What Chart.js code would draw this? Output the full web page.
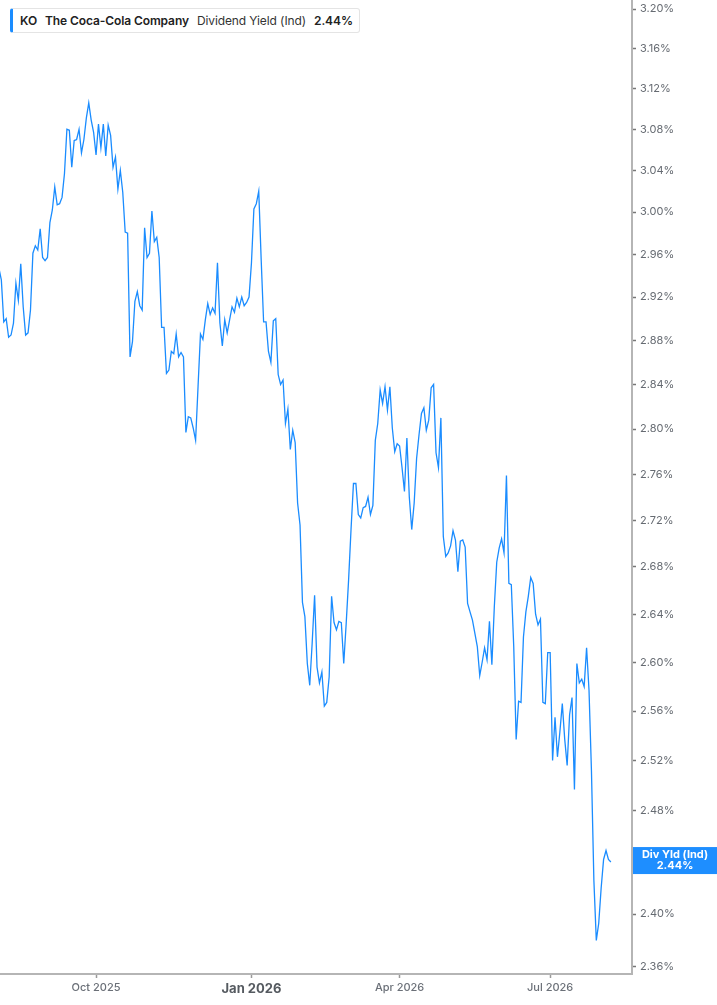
<!DOCTYPE html>
<html>
<head>
<meta charset="utf-8">
<script src="https://cdn.jsdelivr.net/npm/chart.js@4.4.1/dist/chart.umd.min.js"></script>
<style>
html,body{margin:0;padding:0;background:#fff;}
#wrap{position:relative;width:717px;height:1005px;overflow:hidden;}
#legend{position:absolute;left:10px;top:8px;height:25px;box-sizing:border-box;display:flex;align-items:center;
  background:#fff;border:1px solid #e4e4e4;border-left:3px solid #1a8cff;border-radius:3px;padding:0 6px 0 7px;
  font-family:Inter,"Noto Sans",sans-serif;font-size:12px;letter-spacing:-0.1px;color:#222;white-space:nowrap;}
#legend .b{font-weight:600;}
#legend .n{font-weight:400;color:#333;}
#legend span{margin-right:8px;}
#legend span:last-child{margin-right:0;}
</style>
</head>
<body>
<div id="wrap"><canvas id="chart"></canvas><div id="legend"></div></div>
<script>
const ticker = 'KO';
const company = 'The Coca-Cola Company';
const seriesName = 'Dividend Yield (Ind)';
const tagName = 'Div Yld (Ind)';

const dates = [
'2025-08-04','2025-08-05','2025-08-06','2025-08-07','2025-08-08','2025-08-11','2025-08-12','2025-08-13','2025-08-14','2025-08-15','2025-08-18','2025-08-19','2025-08-20','2025-08-21','2025-08-22','2025-08-25','2025-08-26','2025-08-27','2025-08-28','2025-08-29',
'2025-09-02','2025-09-03','2025-09-04','2025-09-05','2025-09-08','2025-09-09','2025-09-10','2025-09-11','2025-09-12','2025-09-15','2025-09-16','2025-09-17','2025-09-18','2025-09-19','2025-09-22','2025-09-23','2025-09-24','2025-09-25','2025-09-26','2025-09-29','2025-09-30',
'2025-10-01','2025-10-02','2025-10-03','2025-10-06','2025-10-07','2025-10-08','2025-10-09','2025-10-10','2025-10-13','2025-10-14','2025-10-15','2025-10-16','2025-10-17','2025-10-20','2025-10-21','2025-10-22','2025-10-23','2025-10-24','2025-10-27','2025-10-28','2025-10-29','2025-10-30','2025-10-31',
'2025-11-03','2025-11-04','2025-11-05','2025-11-06','2025-11-07','2025-11-10','2025-11-11','2025-11-12','2025-11-13','2025-11-14','2025-11-17','2025-11-18','2025-11-19','2025-11-20','2025-11-21','2025-11-24','2025-11-25','2025-11-26','2025-11-28',
'2025-12-01','2025-12-02','2025-12-03','2025-12-04','2025-12-05','2025-12-08','2025-12-09','2025-12-10','2025-12-11','2025-12-12','2025-12-15','2025-12-16','2025-12-17','2025-12-18','2025-12-19','2025-12-22','2025-12-23','2025-12-24','2025-12-26','2025-12-29','2025-12-30','2025-12-31',
'2026-01-02','2026-01-05','2026-01-06','2026-01-07','2026-01-08','2026-01-09','2026-01-12','2026-01-13','2026-01-14','2026-01-15','2026-01-16','2026-01-20','2026-01-21','2026-01-22','2026-01-23','2026-01-26','2026-01-27','2026-01-28','2026-01-29','2026-01-30',
'2026-02-02','2026-02-03','2026-02-04','2026-02-05','2026-02-06','2026-02-09','2026-02-10','2026-02-11','2026-02-12','2026-02-13','2026-02-17','2026-02-18','2026-02-19','2026-02-20','2026-02-23','2026-02-24','2026-02-25','2026-02-26','2026-02-27',
'2026-03-02','2026-03-03','2026-03-04','2026-03-05','2026-03-06','2026-03-09','2026-03-10','2026-03-11','2026-03-12','2026-03-13','2026-03-16','2026-03-17','2026-03-18','2026-03-19','2026-03-20','2026-03-23','2026-03-24','2026-03-25','2026-03-26','2026-03-27','2026-03-30','2026-03-31',
'2026-04-01','2026-04-02','2026-04-06','2026-04-07','2026-04-08','2026-04-09','2026-04-10','2026-04-13','2026-04-14','2026-04-15','2026-04-16','2026-04-17','2026-04-20','2026-04-21','2026-04-22','2026-04-23','2026-04-24','2026-04-27','2026-04-28','2026-04-29','2026-04-30',
'2026-05-01','2026-05-04','2026-05-05','2026-05-06','2026-05-07','2026-05-08','2026-05-11','2026-05-12','2026-05-13','2026-05-14','2026-05-15','2026-05-18','2026-05-19','2026-05-20','2026-05-21','2026-05-22','2026-05-26','2026-05-27','2026-05-28','2026-05-29',
'2026-06-01','2026-06-02','2026-06-03','2026-06-04','2026-06-05','2026-06-08','2026-06-09','2026-06-10','2026-06-11','2026-06-12','2026-06-15','2026-06-16','2026-06-17','2026-06-18','2026-06-22','2026-06-23','2026-06-24','2026-06-25','2026-06-26','2026-06-29','2026-06-30',
'2026-07-01','2026-07-02','2026-07-06','2026-07-07','2026-07-08','2026-07-09','2026-07-10','2026-07-13','2026-07-14','2026-07-15','2026-07-16','2026-07-17','2026-07-20','2026-07-21','2026-07-22','2026-07-23','2026-07-24','2026-07-27','2026-07-28','2026-07-29','2026-07-30','2026-07-31',
'2026-08-03','2026-08-04','2026-08-05','2026-08-06'
];

const values = [
2.940,
2.947,2.936,2.897,2.900,2.883,2.885,2.896,2.933,2.917,2.951,
2.911,2.885,2.887,2.908,2.961,2.968,2.964,2.984,2.957,2.954,
2.957,2.990,3.002,3.024,3.007,3.008,3.014,3.037,3.080,3.079,
3.043,3.069,3.070,3.080,3.057,3.070,3.091,3.106,3.089,3.077,
3.055,3.085,3.062,3.085,3.054,3.084,3.074,3.043,3.053,3.022,
3.040,3.019,2.981,2.980,2.865,2.879,2.916,2.925,2.912,2.908,
2.985,2.957,2.961,3.001,2.972,2.976,2.957,2.892,2.892,2.850,
2.853,2.870,2.868,2.886,2.865,2.869,2.865,2.797,2.811,2.810,
2.801,2.790,2.838,2.886,2.881,2.899,2.914,2.904,2.910,2.905,
2.952,2.896,2.875,2.899,2.887,2.899,2.911,2.906,2.919,2.911,
2.920,2.912,2.915,2.920,2.952,3.003,3.008,3.020,2.955,2.897,
2.897,2.870,2.860,2.898,2.900,2.849,2.840,2.844,2.805,2.818,
2.782,2.799,2.788,2.735,2.716,2.650,2.638,2.599,2.581,2.616,
2.656,2.596,2.583,2.592,2.564,2.567,2.588,2.655,2.633,2.627,
2.634,2.633,2.599,2.632,2.669,2.712,2.752,2.752,2.725,2.722,
2.731,2.732,2.740,2.725,2.733,2.790,2.805,2.835,2.823,2.838,
2.817,2.838,2.801,2.780,2.787,2.785,2.766,2.745,2.792,2.740,
2.712,2.735,2.774,2.795,2.814,2.819,2.799,2.808,2.837,2.840,
2.779,2.766,2.810,2.706,2.689,2.692,2.698,2.711,2.703,2.676,
2.702,2.703,2.697,2.649,2.642,2.635,2.624,2.613,2.589,2.600,
2.612,2.602,2.634,2.598,2.646,2.684,2.696,2.704,2.692,2.759,
2.666,2.665,2.613,2.537,2.568,2.567,2.621,2.642,2.655,2.671,
2.666,2.640,2.631,2.636,2.567,2.566,2.608,2.608,2.520,2.555,
2.523,2.543,2.566,2.537,2.516,2.557,2.571,2.497,2.599,2.583,
2.586,2.580,2.612,2.577,2.512,2.426,2.380,2.393,2.420,2.442,
2.449,2.442,2.440
];

const yTickValues = [3.20,3.16,3.12,3.08,3.04,3.00,2.96,2.92,2.88,2.84,2.80,2.76,2.72,2.68,2.64,2.60,2.56,2.52,2.48,2.44,2.40,2.36];
const xTickMonths = ['2025-10','2026-01','2026-04','2026-07'];
const xTickLabels = ['Oct 2025','Jan 2026','Apr 2026','Jul 2026'];

const xTickIndex = xTickMonths.map(m => dates.findIndex(d => d.startsWith(m)));
const lastValue = values[values.length - 1];
const fmtPct = v => v.toFixed(2) + '%';

const lineColor = '#1a8cff';
const tagColor = '#1e8eff';
const fontFamily = 'Inter, "Noto Sans", sans-serif';

document.getElementById('legend').innerHTML =
  '<span class="b">' + ticker + '</span>' +
  '<span class="b">' + company + '</span>' +
  '<span class="n">' + seriesName + '</span>' +
  '<span class="b">' + fmtPct(lastValue) + '</span>';

const tagPlugin = {
  id: 'lastValueTag',
  afterDraw(chart) {
    const {ctx, chartArea, scales} = chart;
    const py = scales.y.getPixelForValue(lastValue);
    const x0 = chartArea.right + 1;
    const w = chart.width - x0;
    ctx.save();
    ctx.fillStyle = tagColor;
    ctx.fillRect(x0, py - 15, w, 27);
    ctx.fillStyle = '#ffffff';
    ctx.font = 'bold 11px ' + fontFamily;
    ctx.textAlign = 'center';
    ctx.textBaseline = 'middle';
    ctx.fillText(tagName, x0 + w / 2, py - 7);
    ctx.fillText(fmtPct(lastValue), x0 + w / 2, py + 4);
    ctx.restore();
  }
};

new Chart(document.getElementById('chart'), {
  type: 'line',
  data: {
    datasets: [{
      label: seriesName,
      data: values.map((v, i) => ({x: i, y: v})),
      borderColor: lineColor,
      borderWidth: 1.3,
      pointRadius: 0,
      tension: 0,
      fill: false
    }]
  },
  options: {
    responsive: true,
    maintainAspectRatio: false,
    animation: false,
    layout: {padding: 0},
    plugins: {legend: {display: false}, tooltip: {enabled: false}},
    scales: {
      x: {
        type: 'linear',
        min: 1.45,
        max: 261.7,
        bounds: 'data',
        afterBuildTicks: s => { s.ticks = xTickIndex.map(v => ({value: v})); },
        afterFit: s => { s.height = 31; s.paddingLeft = 0; s.paddingRight = 0; },
        grid: {display: true, drawOnChartArea: false, drawTicks: true, tickLength: 4, tickColor: '#9a9a9a', tickWidth: 1.5},
        border: {display: true, color: '#b5b5b5', width: 2},
        ticks: {
          autoSkip: false,
          maxRotation: 0,
          padding: 3,
          callback: v => { const k = xTickIndex.indexOf(v); return k >= 0 ? xTickLabels[k] : ''; },
          font: c => (c.tick && String(c.tick.label).startsWith('Jan')) ? {family: fontFamily, size: 13, weight: 'bold'} : {family: fontFamily, size: 11, weight: '500'},
          color: c => (c.tick && String(c.tick.label).startsWith('Jan')) ? '#555a60' : '#6b7078'
        }
      },
      y: {
        type: 'logarithmic',
        position: 'right',
        min: 2.3547,
        max: 3.2092,
        bounds: 'data',
        afterBuildTicks: s => { s.ticks = yTickValues.map(v => ({value: v})); },
        afterFit: s => { s.width = 85; s.paddingTop = 0; s.paddingBottom = 0; },
        grid: {display: true, drawOnChartArea: false, drawTicks: true, tickLength: 4, tickColor: '#777', tickWidth: 1.5},
        border: {display: true, color: '#b5b5b5', width: 2},
        ticks: {
          autoSkip: false,
          padding: 4,
          callback: v => fmtPct(v),
          font: {family: fontFamily, size: 11},
          color: '#666b72'
        }
      }
    }
  },
  plugins: [tagPlugin]
});
</script>
</body>
</html>
